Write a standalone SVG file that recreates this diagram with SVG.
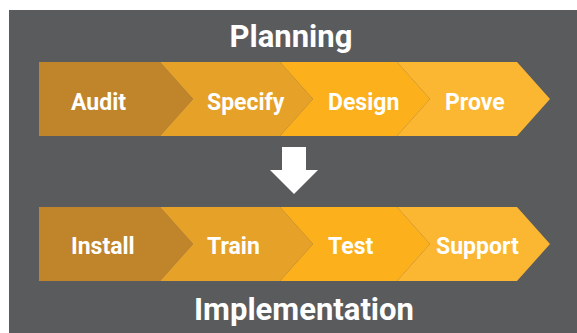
<svg xmlns="http://www.w3.org/2000/svg" width="577" height="333" viewBox="0 0 577 333">
<style>
.t{font-family:Roboto,"Liberation Sans",sans-serif;font-weight:bold;fill:#ffffff}
.lbl{font-size:23px}
.ttl{font-size:31px;text-anchor:middle}
.c1{fill:#c0842b}.c2{fill:#e5a128}.c3{fill:#fcb01b}.c4{fill:#fbb632}
</style>
<rect x="0" y="0" width="577" height="333" fill="#ffffff"/>
<rect x="9" y="10" width="568" height="323" fill="#5a5b5d"/>
<text class="t ttl" x="291" y="47">Planning</text>
<g id="audit"><path class="c1" d="M39,62 L160,62 L193,99 L160,136 L39,136 Z"/><text class="t lbl" x="71" y="110">Audit</text></g>
<g id="specify"><path class="c2" d="M160,62 L280,62 L313,99 L280,136 L160,136 L193,99 Z"/><text class="t lbl" x="207" y="110">Specify</text></g>
<g id="design"><path class="c3" d="M280,62 L397,62 L430,99 L397,136 L280,136 L313,99 Z"/><text class="t lbl" x="328" y="110">Design</text></g>
<g id="prove"><path class="c4" d="M397,62 L517,62 L550,99 L517,136 L397,136 L430,99 Z"/><text class="t lbl" x="445" y="110">Prove</text></g>
<g id="connectors"><path d="M282,147 L306,147 L306,170 L318,170 L294,194 L270,170 L282,170 Z" fill="#ffffff"/></g>
<g id="install"><path class="c1" d="M39,207 L160,207 L193,244 L160,281 L39,281 Z"/><text class="t lbl" x="71" y="254">Install</text></g>
<g id="train"><path class="c2" d="M160,207 L280,207 L313,244 L280,281 L160,281 L193,244 Z"/><text class="t lbl" x="207" y="254">Train</text></g>
<g id="test"><path class="c3" d="M280,207 L397,207 L430,244 L397,281 L280,281 L313,244 Z"/><text class="t lbl" x="328" y="254">Test</text></g>
<g id="support"><path class="c4" d="M397,207 L517,207 L550,244 L517,281 L397,281 L430,244 Z"/><text class="t lbl" x="436" y="254">Support</text></g>
<text class="t ttl" x="304" y="320">Implementation</text>
</svg>
